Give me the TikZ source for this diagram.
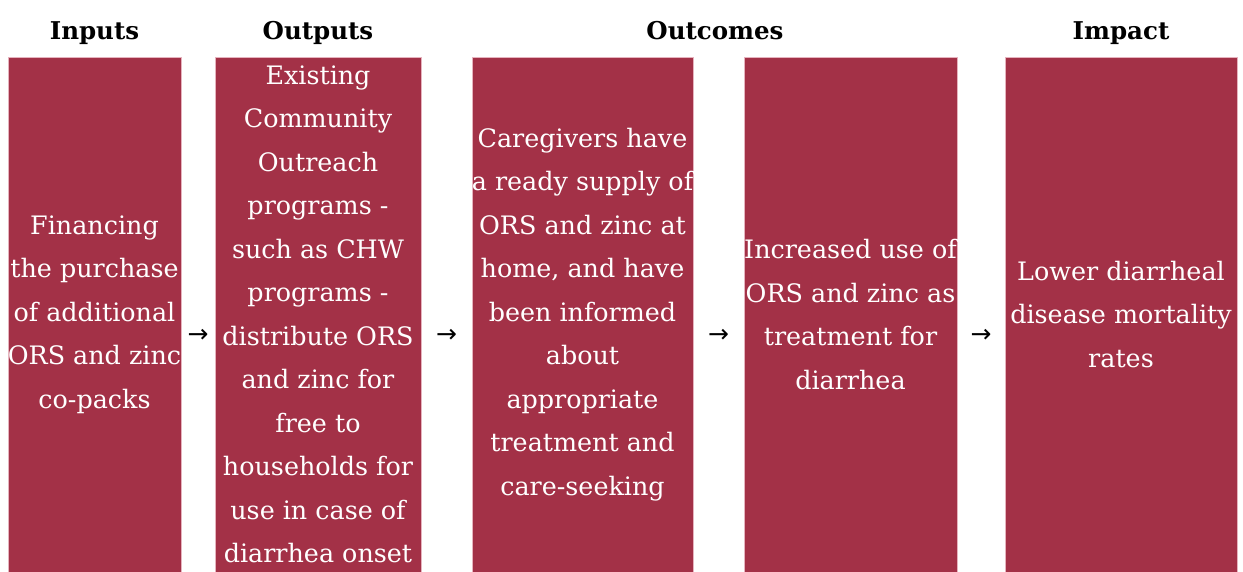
\documentclass[tikz,border=0pt]{standalone}
\usepackage{fontspec}
\setmainfont{DejaVu Serif}
\newfontfamily\arrowfont{DejaVu Sans}
\definecolor{maroon}{HTML}{A33147}
\definecolor{edgepink}{HTML}{E6B3BE}
\begin{document}
\begin{tikzpicture}[x=1pt, y=-1pt,
    box/.style={fill=maroon, draw=edgepink, line width=0.7pt, minimum height=515pt, inner sep=0pt},
    txt/.style={text=white, align=center, inner sep=0pt, font=\fontsize{25.4}{43.5}\selectfont},
    head/.style={inner sep=0pt, anchor=base, font=\fontsize{24.5}{28}\selectfont\bfseries},
    arr/.style={inner sep=0pt, yshift=-21pt, font=\arrowfont\fontsize{25}{25}\selectfont}]
    \useasboundingbox (0,0) rectangle (1243,572);
    %boxes
    \node[box, minimum width=173pt] at (94.5,314.5) (inputs) {};
    \node[box, minimum width=206pt] at (318,314.5) (outputs) {};
    \node[box, minimum width=221pt] at (582.5,314.5) (supply) {};
    \node[box, minimum width=213pt] at (850.5,314.5) (use) {};
    \node[box, minimum width=232pt] at (1121,314.5) (impact) {};
    %texts
    \node[txt] at (inputs) (inputs-text) {Financing\\the purchase\\of additional\\ORS and zinc\\co-packs};
    \node[txt] at (outputs) (outputs-text) {Existing\\Community\\Outreach\\programs -\\such as CHW\\programs -\\distribute ORS\\and zinc for\\free to\\households for\\use in case of\\diarrhea onset};
    \node[txt] at (supply) (supply-text) {Caregivers have\\a ready supply of\\ORS and zinc at\\home, and have\\been informed\\about\\appropriate\\treatment and\\care-seeking};
    \node[txt] at (use) (use-text) {Increased use of\\ORS and zinc as\\treatment for\\diarrhea};
    \node[txt] at (impact) (impact-text) {Lower diarrheal\\disease mortality\\rates};
    %headings
    \node[head] at (94.5,39.5) (inputs-head) {Inputs};
    \node[head] at (318,39.5) (outputs-head) {Outputs};
    \node[head] at (715,39.5) (outcomes-head) {Outcomes};
    \node[head] at (1121,39.5) (impact-head) {Impact};
    %arrows
    \path
        (inputs.east) -- node[arr] (arrow1) {→} (outputs.west)
        (outputs.east) -- node[arr] (arrow2) {→} (supply.west)
        (supply.east) -- node[arr] (arrow3) {→} (use.west)
        (use.east) -- node[arr] (arrow4) {→} (impact.west);
\end{tikzpicture}
\end{document}
